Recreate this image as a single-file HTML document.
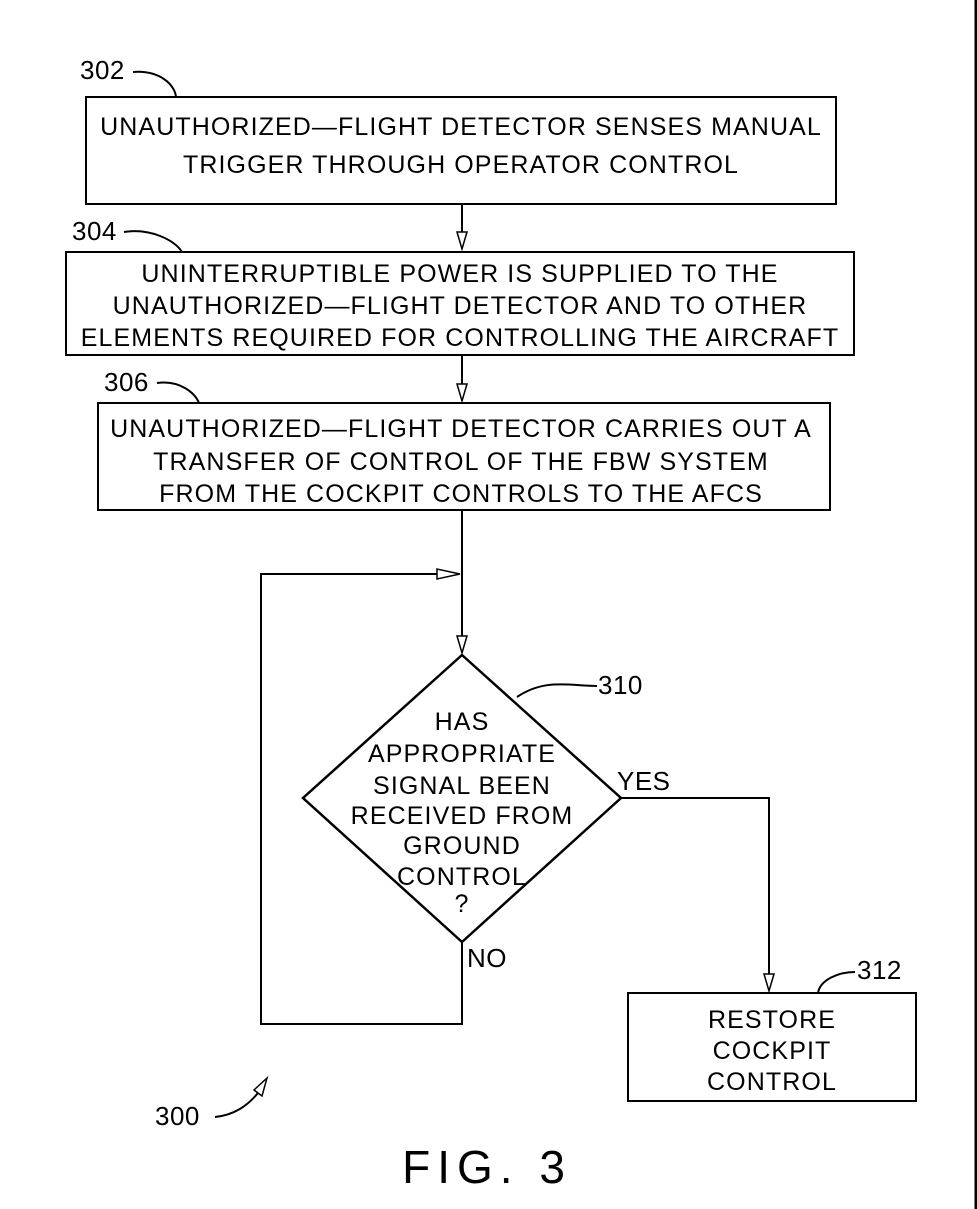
<!DOCTYPE html>
<html><head><meta charset="utf-8"><style>
html,body{margin:0;padding:0;background:#fff;}
svg{display:block;}
text{font-family:"Liberation Sans",sans-serif;fill:#000;}
.t{font-size:25px;letter-spacing:1.1px;text-anchor:middle;}
.l{font-size:26px;letter-spacing:0.5px;}
</style></head><body>
<svg width="977" height="1209" viewBox="0 0 977 1209" xmlns="http://www.w3.org/2000/svg">
<g fill="none" stroke="#000" stroke-width="2">
<line x1="976" y1="0" x2="976" y2="1209" stroke-width="3"/>
<rect x="86" y="97" width="750" height="107"/>
<rect x="66" y="252" width="788" height="103"/>
<rect x="98" y="403" width="732" height="107"/>
<rect x="628" y="993" width="288" height="108"/>
<polygon points="462,655 621,798 462,942 303,798" stroke-width="2.5"/>
<line x1="462" y1="204" x2="462" y2="232"/>
<line x1="462" y1="355" x2="462" y2="384"/>
<line x1="462" y1="510" x2="462" y2="636"/>
<polyline points="462,942 462,1024 261,1024 261,574 445,574"/>
<polyline points="621,798 769,798 769,974"/>
<path d="M133,72 C160,70 175,85 176,97"/>
<path d="M124,232 C150,228 175,240 182,252"/>
<path d="M157,383 C180,380 195,393 199,403"/>
<path d="M517,697 C545,678 570,686 597,686"/>
<path d="M818,993 C820,980 838,972 855,972"/>
<path d="M215,1117 C235,1115 248,1105 258,1093"/>
</g>
<g fill="#fff" stroke="#000" stroke-width="1.5">
<polygon points="457,232 467,232 462,249"/>
<polygon points="457,384 467,384 462,401"/>
<polygon points="457,636 467,636 462,653"/>
<polygon points="437,569 437,579 460,574"/>
<polygon points="764,974 774,974 769,991"/>
<polygon points="267,1078 254,1090 262,1096"/>
</g>
<text class="l" x="80" y="79">302</text>
<text class="l" x="72" y="240">304</text>
<text class="l" x="104" y="391">306</text>
<text class="l" x="598" y="694">310</text>
<text class="l" x="857" y="979">312</text>
<text class="l" x="155" y="1125">300</text>
<text class="t" x="461" y="135">UNAUTHORIZED—FLIGHT DETECTOR SENSES MANUAL</text>
<text class="t" x="461" y="173">TRIGGER THROUGH OPERATOR CONTROL</text>
<text class="t" x="460" y="282">UNINTERRUPTIBLE POWER IS SUPPLIED TO THE</text>
<text class="t" x="460" y="314">UNAUTHORIZED—FLIGHT DETECTOR AND TO OTHER</text>
<text class="t" x="460" y="346">ELEMENTS REQUIRED FOR CONTROLLING THE AIRCRAFT</text>
<text class="t" x="461" y="437">UNAUTHORIZED—FLIGHT DETECTOR CARRIES OUT A</text>
<text class="t" x="461" y="470">TRANSFER OF CONTROL OF THE FBW SYSTEM</text>
<text class="t" x="461" y="502">FROM THE COCKPIT CONTROLS TO THE AFCS</text>
<text class="t" x="462" y="730">HAS</text>
<text class="t" x="462" y="762">APPROPRIATE</text>
<text class="t" x="462" y="794">SIGNAL BEEN</text>
<text class="t" x="462" y="824">RECEIVED FROM</text>
<text class="t" x="462" y="854">GROUND</text>
<text class="t" x="462" y="885">CONTROL</text>
<text class="t" x="462" y="912">?</text>
<text class="l" x="617" y="790">YES</text>
<text class="l" x="467" y="967">NO</text>
<text class="t" x="772" y="1028">RESTORE</text>
<text class="t" x="772" y="1059">COCKPIT</text>
<text class="t" x="772" y="1090">CONTROL</text>
<text x="487" y="1183" style="font-size:46px;letter-spacing:7px;text-anchor:middle;">FIG. 3</text>
</svg>
</body></html>
